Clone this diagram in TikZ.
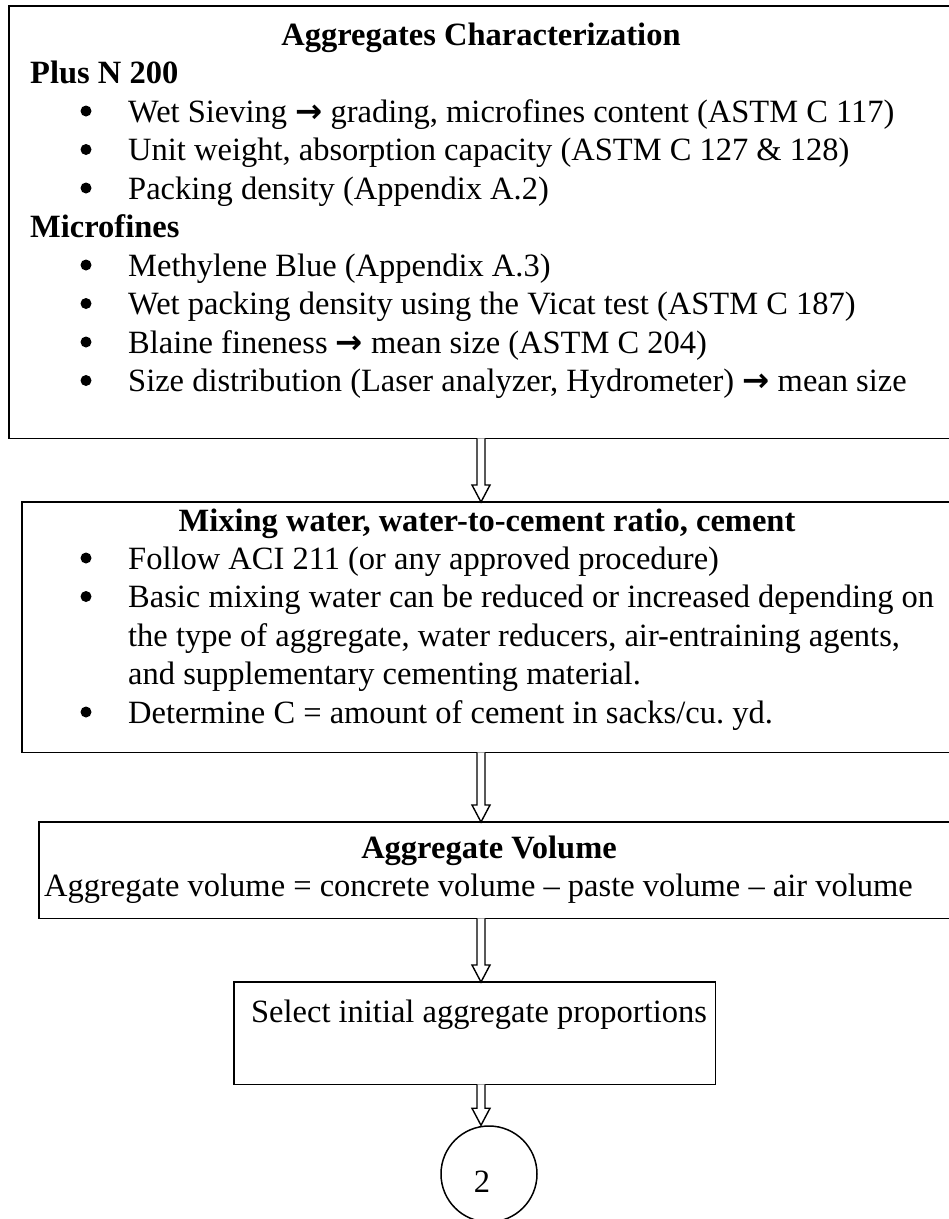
\documentclass[tikz,border=0pt]{standalone}
\usepackage{fontspec}
\setmainfont{Liberation Serif}
\newfontfamily\arrfont{DejaVu Sans}
\usetikzlibrary{calc}
\tikzset{
  boxline/.style={line width=1.8pt},
  txt/.style={anchor=base west, inner sep=0pt, font=\fontsize{32.5}{38.5}\selectfont},
  hd/.style={anchor=base, inner sep=0pt, font=\fontsize{32.5}{38.5}\selectfont\bfseries},
  bul/.style={anchor=base, inner sep=0pt, font=\fontsize{32.5}{38.5}\selectfont},
  dot/.style={circle, fill=black, minimum size=11pt, inner sep=0pt},
  hollow/.style={draw, line width=1.4pt, fill=white, line join=miter}
}
\newcommand{\arr}{{\arrfont\bfseries →}}
\newcommand{\dblarrow}[2]{%
  \draw[hollow] let \p1=(#1), \p2=(#2) in
    (\x1-4pt,\y1) -- (\x1-4pt,\y2+17pt) -- (\x1-9pt,\y2+17pt) -- (\x1,\y2)
    -- (\x1+9pt,\y2+17pt) -- (\x1+4pt,\y2+17pt) -- (\x1+4pt,\y1);}
\begin{document}
\begin{tikzpicture}[x=1pt,y=-1pt]
\useasboundingbox (0,0) rectangle (949,1219);
\clip (0,0) rectangle (949,1219);
% boxes
\node[anchor=north west, minimum width=971pt, minimum height=432pt, inner sep=0pt] (b1) at (9,6) {};
\draw[boxline] (b1.north west) rectangle (b1.south east);
\node[anchor=north west, minimum width=960pt, minimum height=250pt, inner sep=0pt] (b2) at (22,502) {};
\draw[boxline] (b2.north west) rectangle (b2.south east);
\node[anchor=north west, minimum width=950pt, minimum height=96pt, inner sep=0pt] (b3) at (39,822) {};
\draw[boxline] (b3.north west) rectangle (b3.south east);
\node[anchor=north west, minimum width=481pt, minimum height=102pt, inner sep=0pt] (b4) at (234,982) {};
\draw[line width=1.5pt] (b4.north west) rectangle (b4.south east);
\node[draw, circle, line width=1.5pt, minimum size=96pt, inner sep=0pt] (c) at (489,1174) {};
\node[bul] (ctext) at (482,1192) {2};
% arrows
\coordinate (ax) at (481,0);
\dblarrow{b1.south -| ax}{b2.north -| ax}
\dblarrow{b2.south -| ax}{b3.north -| ax}
\dblarrow{b3.south -| ax}{b4.north -| ax}
\dblarrow{b4.south -| ax}{c.north -| ax}
% box 1 text
\node[hd] (h1) at (481,45) {Aggregates Characterization};
\node[txt, font=\fontsize{32.5}{38.5}\selectfont\bfseries] (p1) at (30,83.5) {Plus N 200};
\node[dot] (u1) at (86,111) {}; \node[txt] (t1) at (128,122) {Wet Sieving \arr{} grading, microfines content (ASTM C 117)};
\node[dot] (u2) at (86,149.5) {}; \node[txt] (t2) at (128,160.5) {Unit weight, absorption capacity (ASTM C 127 \& 128)};
\node[dot] (u3) at (86,188) {}; \node[txt] (t3) at (128,199) {Packing density (Appendix A.2)};
\node[txt, font=\fontsize{32.5}{38.5}\selectfont\bfseries] (p2) at (30,237.5) {Microfines};
\node[dot] (u4) at (86,265) {}; \node[txt] (t4) at (128,276) {Methylene Blue (Appendix A.3)};
\node[dot] (u5) at (86,303.5) {}; \node[txt] (t5) at (128,314.5) {Wet packing density using the Vicat test (ASTM C 187)};
\node[dot] (u6) at (86,342) {}; \node[txt] (t6) at (128,353) {Blaine fineness \arr{} mean size (ASTM C 204)};
\node[dot] (u7) at (86,380.5) {}; \node[txt] (t7) at (128,391.5) {Size distribution (Laser analyzer, Hydrometer) \arr{} mean size};
% box 2 text
\node[hd] (h2) at (487,531) {Mixing water, water-to-cement ratio, cement};
\node[dot] (v1) at (86,558) {}; \node[txt] (s1) at (128,569) {Follow ACI 211 (or any approved procedure)};
\node[dot] (v2) at (86,596.5) {}; \node[txt] (s2) at (128,607.5) {Basic mixing water can be reduced or increased depending on};
\node[txt] (s3) at (128,646) {the type of aggregate, water reducers, air-entraining agents,};
\node[txt] (s4) at (128,684.5) {and supplementary cementing material.};
\node[dot] (v3) at (86,712) {}; \node[txt] (s5) at (128,723) {Determine C = amount of cement in sacks/cu.\ yd.};
% box 3 text
\node[hd] (h3) at (489,858) {Aggregate Volume};
\node[txt] (r1) at (44,896) {Aggregate volume = concrete volume – paste volume – air volume};
% box 4 text
\node[anchor=base, inner sep=0pt, font=\fontsize{32.5}{38.5}\selectfont] (q1) at (479,1022) {Select initial aggregate proportions};
\end{tikzpicture}
\end{document}
